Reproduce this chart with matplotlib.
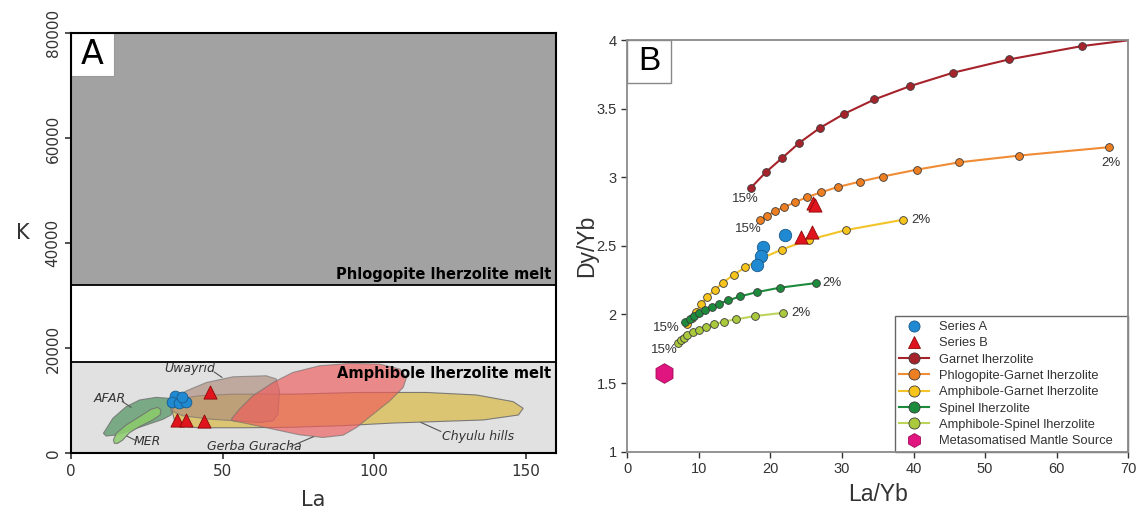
import matplotlib.pyplot as plt
from matplotlib.patches import Polygon, Rectangle
from matplotlib.lines import Line2D

# ---- Panel A: K vs La ----
# melt fields (K limits)
phlog_k_min = 32000
amph_k_max = 17500

# literature fields (La, K outlines)
afar_la = [10.7, 13.8, 18.2, 22.6, 28.1, 32.5, 34.1, 33.0, 30.3, 24.8, 19.3, 14.9, 11.6]
afar_k = [3840, 6690, 8910, 10180, 10690, 10500, 8910, 7330, 6500, 5420, 4340, 3520, 3330]

mer_la = [14.0, 14.9, 18.2, 22.6, 26.4, 28.6, 29.7, 29.4, 27.0, 22.6, 19.3, 17.1, 15.4, 14.3]
mer_k = [2570, 3840, 5420, 7010, 8410, 8790, 8280, 7330, 6380, 5110, 3960, 2570, 1930, 1930]

uway_la = [32.5, 38.0, 44.6, 53.4, 64.4, 67.7, 68.8, 68.3, 66.6, 62.2, 45.7, 36.9, 33.0]
uway_k = [10000, 11900, 13500, 14600, 14800, 14200, 11900, 7500, 6200, 5900, 6540, 7180, 8130]

gerba_la = [52.9, 55.6, 60.0, 66.6, 73.2, 82.0, 92.0, 101.9, 108.5, 110.7, 109.6, 105.2,
            99.7, 94.2, 89.8, 83.1, 75.4, 66.6, 57.8, 53.4]
gerba_k = [6540, 8450, 11000, 13500, 15430, 16700, 17150, 17020, 16070, 14480, 12570, 10030,
           7490, 4950, 3490, 3050, 3560, 4640, 5720, 6220]

chyulu_la = [34.7, 42.4, 53.4, 73.2, 95.3, 117.3, 133.8, 145.9, 149.2, 147.6, 136.0, 119.5,
             106.3, 89.8, 73.2, 56.7, 42.4, 37.4, 34.2, 33.4]
chyulu_k = [10350, 10990, 11300, 11300, 11620, 11620, 11140, 9870, 8600, 7330, 6380, 6060,
            5800, 5300, 5000, 4900, 4900, 5100, 6200, 8000]

# samples
a_la = [34.2, 33.2, 35.8, 38.0, 36.7]
a_k = [11010, 9870, 9680, 9870, 10690]
b_la = [45.7, 35.0, 38.0, 44.0]
b_k = [11640, 6370, 6370, 6250]

# ---- Panel B: Dy/Yb vs La/Yb melting curves ----
# last garnet step lies beyond the axis limit
garnet_x = [17.25, 19.35, 21.65, 24.05, 26.87, 30.30, 34.54, 39.51, 45.55, 53.38, 63.56, 76.5]
garnet_y = [2.922, 3.036, 3.141, 3.251, 3.358, 3.462, 3.567, 3.664, 3.762, 3.859, 3.956, 4.04]

phlgar_x = [18.58, 19.55, 20.62, 21.90, 23.44, 25.08, 27.12, 29.43, 32.50, 35.67, 40.53, 46.42, 54.76, 67.30]
phlgar_y = [2.686, 2.720, 2.752, 2.781, 2.818, 2.854, 2.891, 2.929, 2.968, 3.005, 3.056, 3.109, 3.158, 3.219]

amphgar_x = [8.28, 8.98, 9.63, 10.33, 11.16, 12.19, 13.35, 14.88, 16.51, 18.8, 21.58, 25.35, 30.56, 38.51]
amphgar_y = [1.927, 1.976, 2.020, 2.073, 2.129, 2.176, 2.232, 2.290, 2.344, 2.41, 2.473, 2.544, 2.615, 2.690]

spinel_x = [8.05, 8.7, 9.35, 10.05, 10.8, 11.8, 12.79, 14.13, 15.78, 18.13, 21.3, 26.37]
spinel_y = [1.947, 1.97, 1.99, 2.01, 2.033, 2.058, 2.078, 2.103, 2.132, 2.163, 2.195, 2.229]

amphsp_x = [7.06, 7.45, 7.9, 8.4, 9.18, 10.08, 11.03, 12.16, 13.45, 15.23, 17.91, 21.8]
amphsp_y = [1.792, 1.812, 1.832, 1.851, 1.871, 1.889, 1.906, 1.928, 1.948, 1.965, 1.989, 2.012]

mantle_x = [5.2]
mantle_y = [1.57]

seriesA_x = [19.0, 18.66, 18.13, 21.98]
seriesA_y = [2.493, 2.425, 2.364, 2.58]
seriesB_x = [24.29, 25.81, 25.9, 26.2]
seriesB_y = [2.565, 2.598, 2.81, 2.80]

BLUE = '#1f8ad2'
RED = '#e0141c'
PINK = '#e0157f'

fig = plt.figure(figsize=(11.43, 5.13), dpi=100)

# ================= A =================
axA = fig.add_axes([0.0621, 0.116, 0.4243, 0.819])
axA.set_xlim(0, 160)
axA.set_ylim(0, 80000)

axA.add_patch(Rectangle((0, phlog_k_min), 160, 80000 - phlog_k_min, facecolor='#a2a2a2',
                        edgecolor='black', linewidth=1.3, zorder=0))
axA.add_patch(Rectangle((0, 0), 160, amph_k_max, facecolor='#e1e1e1',
                        edgecolor='black', linewidth=1.3, zorder=0))

fields = [
    (afar_la, afar_k, '#5f9d6e', 0.8),
    (chyulu_la, chyulu_k, '#dcc266', 0.9),
    (uway_la, uway_k, '#ad8b7c', 0.65),
    (gerba_la, gerba_k, '#f05a5a', 0.65),
    (mer_la, mer_k, '#8ccd6c', 0.85),
]
for la, k, col, al in fields:
    axA.add_patch(Polygon(list(zip(la, k)), closed=True, facecolor=col, alpha=al,
                          edgecolor='#707070', linewidth=0.8, zorder=2))

axA.scatter(a_la, a_k, s=60, c=BLUE, edgecolors='#1a5a8a', linewidths=0.6, zorder=5)
axA.scatter(b_la, b_k, s=90, marker='^', c=RED, edgecolors='#8a0a0a', linewidths=0.6, zorder=5)

lab = dict(fontsize=9, style='italic', color='#333333', zorder=6)
axA.text(39.1, 16200, 'Uwayrid', ha='center', va='center', **lab)
axA.plot([47.3, 49.8], [15500, 14500], color='#555555', lw=0.8, zorder=6)
axA.text(12.7, 10500, 'AFAR', ha='center', va='center', **lab)
axA.plot([16.9, 19.8], [9900, 8800], color='#555555', lw=0.8, zorder=6)
axA.text(25.3, 2250, 'MER', ha='center', va='center', **lab)
axA.plot([21.6, 18.5], [2400, 3300], color='#555555', lw=0.8, zorder=6)
axA.text(60.5, 1250, 'Gerba Guracha', ha='center', va='center', **lab)
axA.plot([72.3, 80.0], [1300, 3200], color='#555555', lw=0.8, zorder=6)
axA.text(134.4, 3300, 'Chyulu hills', ha='center', va='center', **lab)
axA.plot([122.0, 115.5], [4200, 5900], color='#555555', lw=0.8, zorder=6)

axA.text(158.5, 34000, 'Phlogopite lherzolite melt', ha='right', va='center',
         fontsize=10.5, fontweight='bold', zorder=6)
axA.text(158.5, 15300, 'Amphibole lherzolite melt', ha='right', va='center',
         fontsize=10.5, fontweight='bold', zorder=6)

axA.add_patch(Rectangle((0, 0.899), 0.0887, 0.101, transform=axA.transAxes,
                        facecolor='white', edgecolor='#999999', linewidth=0.8, zorder=7))
axA.text(0.0444, 0.949, 'A', transform=axA.transAxes, ha='center', va='center',
         fontsize=24, zorder=8)

axA.set_xticks([0, 50, 100, 150])
axA.set_yticks([0, 20000, 40000, 60000, 80000])
axA.tick_params(labelsize=11, colors='#333333', length=4, width=1.2)
for t in axA.get_yticklabels():
    t.set_rotation(90)
    t.set_va('center')
for s in axA.spines.values():
    s.set_linewidth(1.5)
    s.set_zorder(9)
axA.set_xlabel('La', fontsize=15, color='#333333', labelpad=8)
axA.set_ylabel('K', fontsize=15, color='#333333', rotation=0, labelpad=22)
axA.yaxis.set_label_coords(-0.1, 0.5)

# ================= B =================
axB = fig.add_axes([0.5488, 0.1195, 0.4383, 0.8025])
axB.set_xlim(0, 70)
axB.set_ylim(1, 4)

curves = [
    (garnet_x, garnet_y, '#a6232b', '#a6232b', 'Garnet lherzolite'),
    (phlgar_x, phlgar_y, '#ed7f22', '#f08c35', 'Phlogopite-Garnet lherzolite'),
    (amphgar_x, amphgar_y, '#f7c41c', '#f2c42a', 'Amphibole-Garnet lherzolite'),
    (spinel_x, spinel_y, '#1c8b3c', '#1c8b3c', 'Spinel lherzolite'),
    (amphsp_x, amphsp_y, '#abc93c', '#bcd45a', 'Amphibole-Spinel lherzolite'),
]
for x, y, fc, lc, name in curves:
    axB.plot(x, y, '-', color=lc, lw=1.5, marker='o', ms=5.6,
             markerfacecolor=fc, markeredgecolor='#3a3a3a', markeredgewidth=0.6, zorder=3)

axB.scatter(seriesA_x, seriesA_y, s=80, c=BLUE, edgecolors='#1a5a8a', linewidths=0.6, zorder=5)
axB.scatter(seriesB_x, seriesB_y, s=90, marker='^', c=RED, edgecolors='#8a0a0a',
            linewidths=0.6, zorder=5)
axB.scatter(mantle_x, mantle_y, s=200, marker='h', c=PINK, edgecolors='#a00a58',
            linewidths=0.6, zorder=5)

pct = dict(fontsize=9.5, color='#333333', fontfamily='Liberation Sans', zorder=6)
axB.text(16.5, 2.84, '15%', ha='center', va='center', **pct)
axB.text(16.9, 2.62, '15%', ha='center', va='center', **pct)
axB.text(5.5, 1.905, '15%', ha='center', va='center', **pct)
axB.text(5.2, 1.74, '15%', ha='center', va='center', **pct)
axB.text(67.6, 3.105, '2%', ha='center', va='center', **pct)
axB.text(41.1, 2.686, '2%', ha='center', va='center', **pct)
axB.text(28.6, 2.226, '2%', ha='center', va='center', **pct)
axB.text(24.2, 2.012, '2%', ha='center', va='center', **pct)

axB.add_patch(Rectangle((0, 0.8963), 0.0866, 0.1037, transform=axB.transAxes,
                        facecolor='white', edgecolor='#888888', linewidth=1.0, zorder=7))
axB.text(0.0433, 0.948, 'B', transform=axB.transAxes, ha='center', va='center',
         fontsize=24, fontfamily='Liberation Sans', zorder=8)

# legend entries
leg_handles = [
    Line2D([], [], ls='none', marker='o', ms=8, mfc=BLUE, mec='#1a5a8a', mew=0.6, label='Series A'),
    Line2D([], [], ls='none', marker='^', ms=8.5, mfc=RED, mec='#8a0a0a', mew=0.6, label='Series B'),
]
for x, y, fc, lc, name in curves:
    leg_handles.append(Line2D([], [], color=lc, lw=1.5, marker='o', ms=8, mfc=fc,
                              mec='#3a3a3a', mew=0.6, label=name))
leg_handles.append(Line2D([], [], ls='none', marker='h', ms=10, mfc=PINK, mec='#a00a58',
                          mew=0.6, label='Metasomatised Mantle Source'))

leg = axB.legend(handles=leg_handles, loc='lower left', bbox_to_anchor=(0.534, 0.0, 0.466, 0.324),
                 mode='expand', prop={'family': 'Liberation Sans', 'size': 9.3}, frameon=True,
                 fancybox=False, edgecolor='#666666', framealpha=1, borderaxespad=0,
                 labelspacing=0.33, handlelength=2.3, handletextpad=0.8, borderpad=0.35)
leg.get_frame().set_linewidth(1.0)
for t in leg.get_texts():
    t.set_color('#333333')

axB.set_xticks(range(0, 71, 10))
axB.set_yticks([1, 1.5, 2, 2.5, 3, 3.5, 4])
axB.set_yticklabels(['1', '1.5', '2', '2.5', '3', '3.5', '4'])
axB.tick_params(labelsize=10.5, colors='#333333', length=4, width=1.0)
for t in axB.get_xticklabels() + axB.get_yticklabels():
    t.set_fontfamily('Liberation Sans')
for s in axB.spines.values():
    s.set_color('#8a8a8a')
    s.set_linewidth(1.3)
    s.set_zorder(9)
axB.set_xlabel('La/Yb', fontsize=16.5, fontfamily='Liberation Sans', color='#333333', labelpad=5)
axB.set_ylabel('Dy/Yb', fontsize=16.5, fontfamily='Liberation Sans', color='#333333', labelpad=-1)

fig.savefig('out.png', dpi=100)
